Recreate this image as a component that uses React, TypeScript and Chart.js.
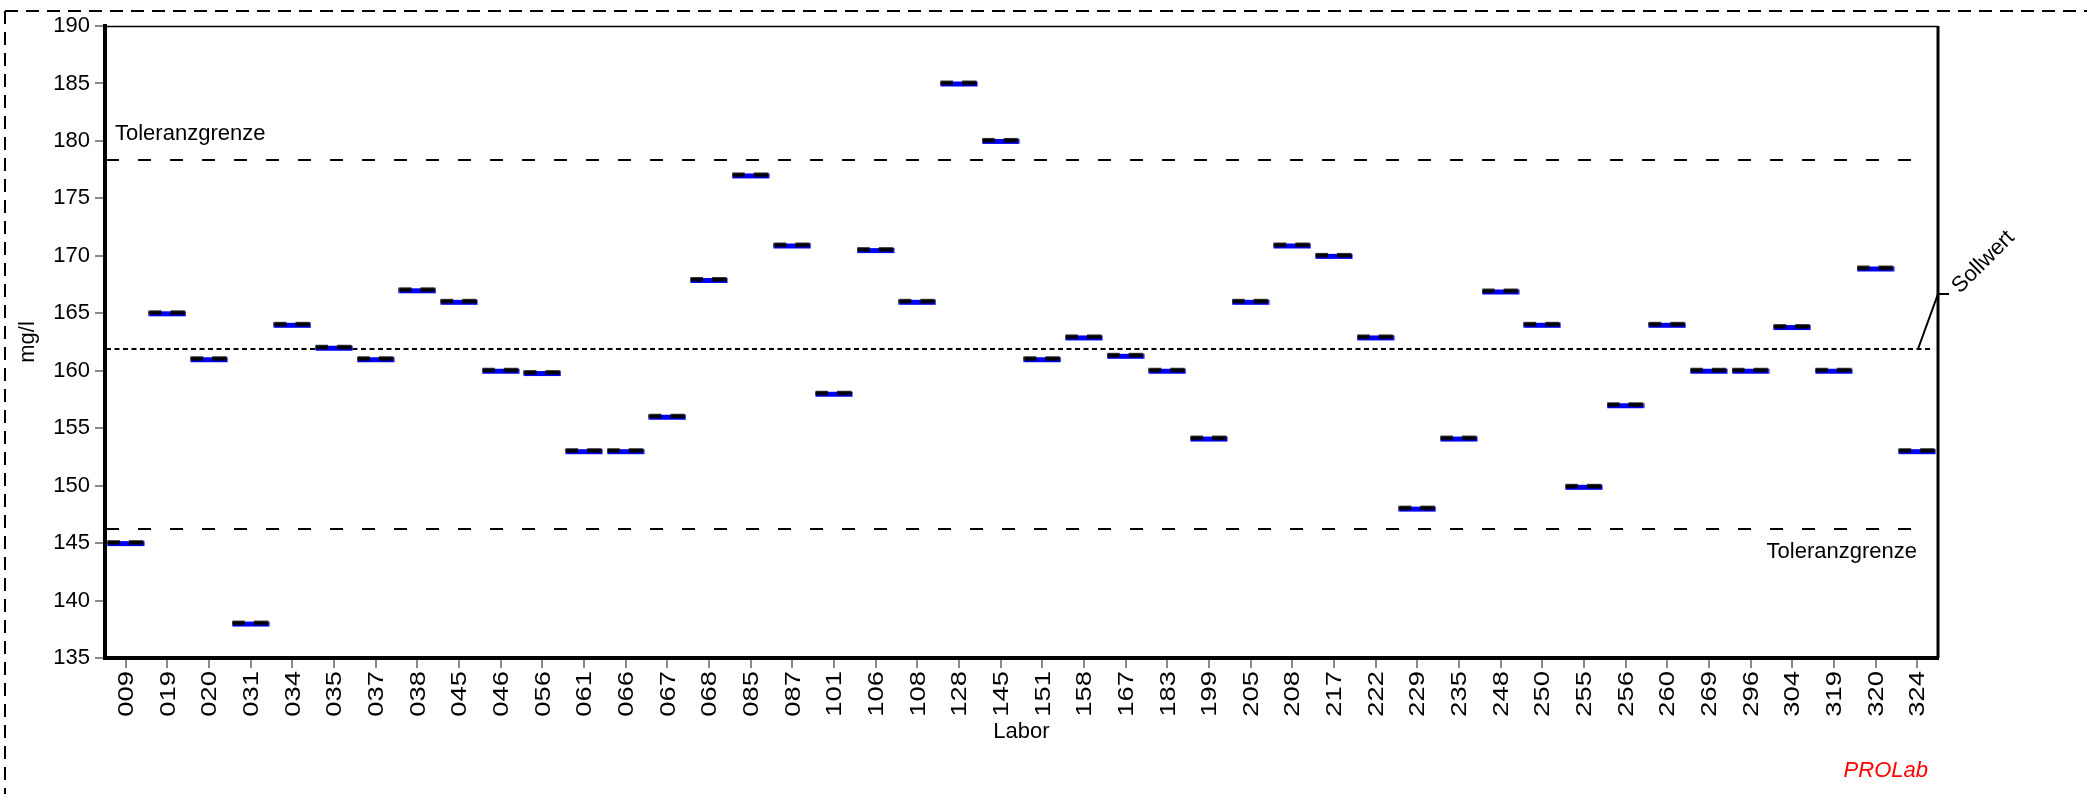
import React, { useEffect, useRef } from "react";
import { Chart, registerables } from "chart.js";

Chart.register(...registerables);

// ---- data ----
const labs = [
  "009", "019", "020", "031", "034", "035", "037", "038", "045", "046", "056",
  "061", "066", "067", "068", "085", "087", "101", "106", "108", "128", "145",
  "151", "158", "167", "183", "199", "205", "208", "217", "222", "229", "235",
  "248", "250", "255", "256", "260", "269", "296", "304", "319", "320", "324",
];
const values = [
  145, 165, 161, 138, 164, 162, 161, 167, 166, 160, 159.8,
  153, 153, 156, 167.9, 177, 170.9, 158, 170.5, 166, 185, 180,
  161, 162.9, 161.3, 160, 154.1, 166, 170.9, 170, 162.9, 148, 154.1,
  166.9, 164, 149.9, 157, 164, 160, 160, 163.8, 160, 168.9, 153,
];
const sollwert = 161.9;
const tolUpper = 178.3;
const tolLower = 146.2;
const yMin = 135;
const yMax = 190;
const yStep = 5;
const yTitle = "mg/l";
const xTitle = "Labor";
const tolLabel = "Toleranzgrenze";
const sollLabel = "Sollwert";
const brand = "PROLab";

const FONT = '"Liberation Sans", Arial, sans-serif';
const FS = 22;

function makeMarker(): HTMLCanvasElement {
  const c = document.createElement("canvas");
  c.width = 38;
  c.height = 8;
  const g = c.getContext("2d")!;
  g.fillStyle = "#0000ff";
  g.fillRect(0.5, 2, 37, 5);
  g.fillStyle = "#000000";
  g.fillRect(0.5, 1.2, 12.5, 4.3);
  g.fillRect(22, 1.2, 14.5, 4.3);
  return c;
}

const overlay = {
  id: "overlay",
  beforeDatasetsDraw(chart: any) {
    const { ctx, chartArea: a, scales } = chart;
    const x = scales.x;
    const y = scales.y;
    ctx.save();
    ctx.strokeStyle = "#000";
    ctx.setLineDash([]);
    // top frame
    ctx.lineWidth = 1.5;
    ctx.beginPath();
    ctx.moveTo(a.left, a.top + 0.5);
    ctx.lineTo(a.right, a.top + 0.5);
    ctx.stroke();
    // right frame
    ctx.lineWidth = 3;
    ctx.beginPath();
    ctx.moveTo(a.right, a.top);
    ctx.lineTo(a.right, a.bottom);
    ctx.stroke();
    // tolerance lines
    ctx.lineWidth = 2;
    ctx.setLineDash([13, 19]);
    const lastX = x.getPixelForValue(labs.length - 1);
    for (const v of [tolUpper, tolLower]) {
      const py = Math.round(y.getPixelForValue(v));
      ctx.beginPath();
      ctx.moveTo(a.left + 1, py);
      ctx.lineTo(lastX, py);
      ctx.stroke();
    }
    // sollwert line
    ctx.setLineDash([5, 3.5]);
    const sy = Math.round(y.getPixelForValue(sollwert));
    ctx.beginPath();
    ctx.moveTo(a.left + 1, sy);
    ctx.lineTo(a.right - 6, sy);
    ctx.stroke();
    ctx.restore();
  },
  afterDraw(chart: any) {
    const { ctx, chartArea: a, scales } = chart;
    const x = scales.x;
    const y = scales.y;
    ctx.save();
    // outer dashed frame
    ctx.strokeStyle = "#000";
    ctx.lineWidth = 2;
    ctx.setLineDash([13, 8]);
    ctx.beginPath();
    ctx.moveTo(5, 11);
    ctx.lineTo(chart.width, 11);
    ctx.stroke();
    ctx.beginPath();
    ctx.moveTo(5, 11);
    ctx.lineTo(5, chart.height);
    ctx.stroke();
    ctx.setLineDash([]);

    // x tick labels (rotated, stretched)
    ctx.fillStyle = "#000";
    ctx.font = `22.5px ${FONT}`;
    ctx.textAlign = "right";
    ctx.textBaseline = "middle";
    labs.forEach((lab, i) => {
      const px = x.getPixelForTick(i);
      ctx.save();
      ctx.translate(px + 1, a.bottom + 13);
      ctx.rotate(-Math.PI / 2);
      ctx.scale(1.22, 1);
      ctx.fillText(lab, 0, 0);
      ctx.restore();
    });

    // tolerance labels
    ctx.font = `${FS}px ${FONT}`;
    ctx.textBaseline = "alphabetic";
    ctx.textAlign = "left";
    ctx.fillText(tolLabel, a.left + 10, Math.round(y.getPixelForValue(tolUpper)) - 20);
    ctx.textAlign = "right";
    ctx.fillText(tolLabel, a.right - 21, Math.round(y.getPixelForValue(tolLower)) + 29);

    // sollwert leader + label
    const sy = Math.round(y.getPixelForValue(sollwert));
    ctx.lineWidth = 2;
    ctx.beginPath();
    ctx.moveTo(a.right - 20, sy);
    ctx.lineTo(a.right, sy - 55);
    ctx.lineTo(a.right + 11, sy - 55);
    ctx.stroke();
    ctx.save();
    ctx.translate(a.right + 22, sy - 55);
    ctx.rotate(-Math.PI / 4);
    ctx.textAlign = "left";
    ctx.textBaseline = "alphabetic";
    ctx.fillText(sollLabel, 0, 0);
    ctx.restore();

    // brand
    ctx.fillStyle = "#ff0000";
    ctx.font = `italic ${FS}px ${FONT}`;
    ctx.textAlign = "right";
    ctx.fillText(brand, a.right - 10, chart.height - 17);
    ctx.restore();
  },
};

export default function App() {
  const ref = useRef<HTMLCanvasElement | null>(null);
  useEffect(() => {
    if (!ref.current) return;
    const marker = makeMarker();
    const chart = new Chart(ref.current, {
      type: "line",
      data: {
        labels: labs,
        datasets: [
          {
            data: values,
            showLine: false,
            pointStyle: marker as any,
            pointRadius: 12,
            pointHoverRadius: 12,
            clip: false as any,
          },
        ],
      },
      options: {
        responsive: false,
        animation: false,
        events: [],
        layout: { padding: { top: 26, right: 149, left: 0, bottom: 0 } },
        plugins: {
          legend: { display: false },
          tooltip: { enabled: false },
        },
        scales: {
          x: {
            type: "category",
            offset: true,
            grid: {
              offset: false,
              drawOnChartArea: false,
              drawTicks: true,
              tickLength: 10,
              color: "#8a8a8a",
              lineWidth: 2,
            },
            border: { color: "#000", width: 4 },
            ticks: { display: false },
            title: {
              display: true,
              text: xTitle,
              color: "#000",
              font: { family: FONT, size: FS },
              padding: { top: 0, bottom: 49 },
            },
            afterFit: (s: any) => {
              s.height = 136;
            },
          },
          y: {
            type: "linear",
            min: yMin,
            max: yMax,
            ticks: {
              stepSize: yStep,
              color: "#000",
              font: { family: FONT, size: FS },
              padding: 5,
            },
            grid: {
              drawOnChartArea: false,
              drawTicks: true,
              tickLength: 10,
              color: "#8a8a8a",
              lineWidth: 2,
            },
            border: { color: "#000", width: 4 },
            title: {
              display: true,
              text: yTitle,
              color: "#000",
              font: { family: FONT, size: FS },
              padding: { top: 15, bottom: 0 },
            },
            afterFit: (s: any) => {
              s.width = 105;
            },
          },
        },
      },
      plugins: [overlay],
    });
    return () => chart.destroy();
  }, []);
  return (
    <div
      style={{
        position: "fixed",
        left: 0,
        top: 0,
        width: 2087,
        height: 794,
        background: "#fff",
      }}
    >
      <canvas ref={ref} width={2087} height={794} style={{ display: "block" }} />
    </div>
  );
}
